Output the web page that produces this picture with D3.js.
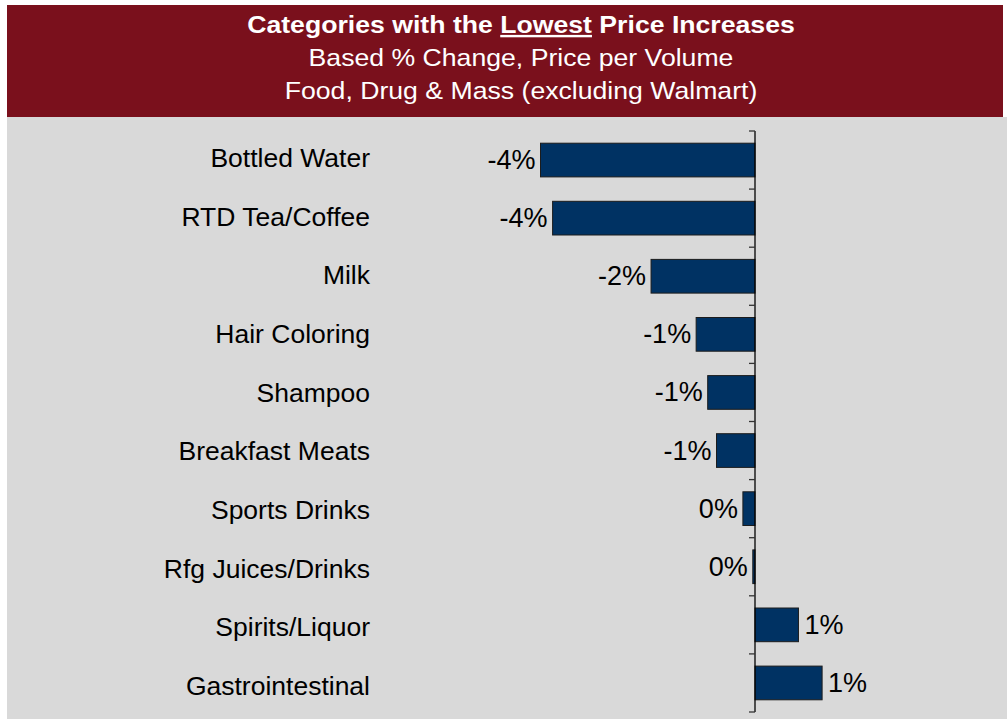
<!DOCTYPE html>
<html>
<head>
<meta charset="utf-8">
<script src="https://cdn.jsdelivr.net/npm/d3@7"></script>
<style>
  body { margin: 0; background: #ffffff; }
  svg text { font-family: "Liberation Sans", Arial, sans-serif; }
</style>
</head>
<body>
<div id="chart"></div>
<script>
// data (% change, price per volume)
var categories = ["Bottled Water", "RTD Tea/Coffee", "Milk", "Hair Coloring", "Shampoo",
  "Breakfast Meats", "Sports Drinks", "Rfg Juices/Drinks", "Spirits/Liquor", "Gastrointestinal"]
var values = [-3.9, -3.68, -1.89, -1.07, -0.86, -0.7, -0.22, -0.04, 0.79, 1.22]
var valueLabels = ["-4%", "-4%", "-2%", "-1%", "-1%", "-1%", "0%", "0%", "1%", "1%"]
var titleLines = ["Based % Change, Price per Volume", "Food, Drug & Mass (excluding Walmart)"]

var width = 1007, height = 719

var svg = d3.select("#chart").append("svg")
  .attr("width", width)
  .attr("height", height)

// header band + plot background
svg.append("rect").attr("x", 7).attr("y", 5).attr("width", 996).attr("height", 112).attr("fill", "#7a101c")
svg.append("rect").attr("x", 7).attr("y", 117).attr("width", 1000).attr("height", 602).attr("fill", "#d9d9d9")

// title text is a bit wide in the original, so stretch it horizontally
var t1 = svg.append("g").attr("transform", "translate(521,33) scale(1.11,1)")
  .append("text").attr("text-anchor", "middle").attr("fill", "#fff")
  .style("font-size", "24px").style("font-weight", "bold")
t1.append("tspan").text("Categories with the ")
t1.append("tspan").text("Lowest").style("text-decoration", "underline")
t1.append("tspan").text(" Price Increases")

svg.selectAll(".sub")
  .data(titleLines)
  .enter().append("g")
  .attr("transform", (d, i) => `translate(521,${66 + i * 33}) scale(1.11,1)`)
  .append("text").attr("text-anchor", "middle").attr("fill", "#fff")
  .style("font-size", "24px")
  .text(d => d)

var x = d3.scaleLinear().domain([-4, 2]).range([535, 865])
var y = d3.scaleBand().domain(categories).range([131, 712]).paddingInner(0.42).paddingOuter(0.21)
// category labels are spaced slightly wider than the bars in the original
var yLabel = d3.scalePoint().domain(categories).range([158, 686])

// bars
svg.selectAll(".bar")
  .data(values)
  .enter().append("rect")
  .attr("class", "bar")
  .attr("x", d => x(Math.min(0, d)))
  .attr("width", d => Math.abs(x(d) - x(0)))
  .attr("y", (d, i) => y(categories[i]))
  .attr("height", y.bandwidth())
  .attr("fill", "#003263")
  .attr("stroke", "#1c1c1c")
  .attr("stroke-width", 1)

// value axis line with ticks between categories
var tickYs = d3.range(categories.length + 1).map(i => 131 + i * y.step())
svg.append("line")
  .attr("x1", x(0)).attr("x2", x(0))
  .attr("y1", 131).attr("y2", 712)
  .attr("stroke", "#000").attr("stroke-width", 1.3)
svg.selectAll(".tick")
  .data(tickYs)
  .enter().append("line")
  .attr("x1", x(0) - 6).attr("x2", x(0))
  .attr("y1", d => d).attr("y2", d => d)
  .attr("stroke", "#333").attr("stroke-width", 1.3)

// category labels
svg.selectAll(".cat")
  .data(categories)
  .enter().append("text")
  .attr("x", 370)
  .attr("y", d => yLabel(d) + 9)
  .attr("text-anchor", "end")
  .style("font-size", "26.5px")
  .attr("fill", "#000")
  .text(d => d)

// value labels
svg.selectAll(".val")
  .data(values)
  .enter().append("text")
  .attr("x", d => d < 0 ? x(d) - 5 : x(d) + 6)
  .attr("y", (d, i) => y(categories[i]) + y.bandwidth() / 2 + 9)
  .attr("text-anchor", d => d < 0 ? "end" : "start")
  .style("font-size", "27px")
  .attr("fill", "#000")
  .text((d, i) => valueLabels[i])
</script>
</body>
</html>
